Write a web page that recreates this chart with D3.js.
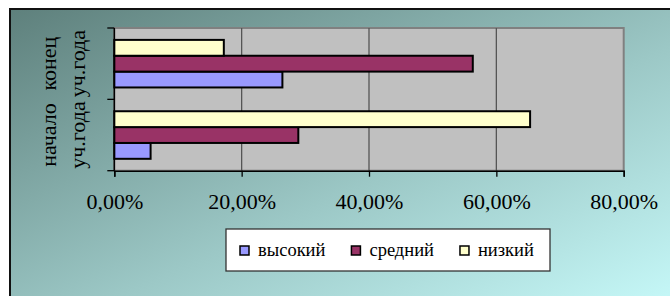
<!DOCTYPE html>
<html>
<head>
<meta charset="utf-8">
<script src="https://cdn.jsdelivr.net/npm/d3@7"></script>
<style>
  body { margin: 0; background: #fff; }
  svg text { font-family: "Liberation Serif", "Times New Roman", Tinos, "DejaVu Serif", "Noto Serif", serif; fill: #000; }
</style>
</head>
<body>
<svg id="chart"></svg>
<script>
// категории снизу вверх, как в Excel
var categories = [["начало", "уч.года"], ["конец", "уч.года"]];
var seriesNames = ["высокий", "средний", "низкий"];
var seriesColors = ["#9999ff", "#993366", "#ffffcc"];
// значения [начало, конец] для каждой серии
var vysokiy = [0.057, 0.264];
var sredniy = [0.289, 0.563];
var nizkiy = [0.653, 0.172];
var seriesValues = [vysokiy, sredniy, nizkiy];
var xTicks = [0, 0.2, 0.4, 0.6, 0.8];

var width = 670, height = 296;
var plot = {left: 114.3, right: 623.7, top: 28, bottom: 170.7};
var serif = '"Liberation Serif", "Times New Roman", Tinos, "DejaVu Serif", serif';

var svg = d3.select("#chart")
    .attr("width", width)
    .attr("height", height);

var defs = svg.append("defs");
var grad = defs.append("linearGradient")
    .attr("id", "bg")
    .attr("x1", "0%").attr("y1", "0%")
    .attr("x2", "100%").attr("y2", "100%");
grad.append("stop").attr("offset", "0%").attr("stop-color", "#5e807c");
grad.append("stop").attr("offset", "55%").attr("stop-color", "#9cc8c6");
grad.append("stop").attr("offset", "100%").attr("stop-color", "#c9fcfc");

// фон диаграммы
svg.append("rect")
    .attr("x", 10).attr("y", 9)
    .attr("width", width + 10).attr("height", height + 10)
    .attr("fill", "url(#bg)")
    .attr("stroke", "#111")
    .attr("stroke-width", 2);

var x = d3.scaleLinear()
    .domain([0, 0.8])
    .range([plot.left, plot.right]);

var y0 = d3.scaleBand()
    .domain(d3.range(categories.length))
    .range([plot.bottom, plot.top])
    .paddingInner(1 / 3)
    .paddingOuter(1 / 6);

// серии снизу вверх внутри группы
var y1 = d3.scaleBand()
    .domain(d3.range(seriesNames.length))
    .range([y0.bandwidth(), 0]);

// область построения
svg.append("rect")
    .attr("x", plot.left).attr("y", plot.top)
    .attr("width", plot.right - plot.left)
    .attr("height", plot.bottom - plot.top)
    .attr("fill", "#c0c0c0")
    .attr("stroke", "#808080")
    .attr("stroke-width", 2);

svg.append("g")
    .selectAll("line")
    .data(xTicks.slice(1, -1))
    .enter()
    .append("line")
    .attr("x1", function(d) { return x(d); })
    .attr("x2", function(d) { return x(d); })
    .attr("y1", plot.top)
    .attr("y2", plot.bottom)
    .attr("stroke", "#555")
    .attr("stroke-width", 1.3);

// столбики
var groups = svg.append("g")
    .selectAll("g")
    .data(categories)
    .enter()
    .append("g")
    .attr("transform", function(d, i) {
      return "translate(0," + y0(i) + ")";
    });

groups.selectAll("rect")
    .data(function(d, ci) {
      return seriesValues.map(function(vals, si) {
        return {si: si, v: vals[ci]};
      });
    })
    .enter()
    .append("rect")
    .attr("x", x(0))
    .attr("y", function(d) { return y1(d.si); })
    .attr("width", function(d) { return x(d.v) - x(0); })
    .attr("height", y1.bandwidth())
    .attr("fill", function(d) { return seriesColors[d.si]; })
    .attr("stroke", "#000")
    .attr("stroke-width", 2);

// ось X
var xAxis = svg.append("g")
    .attr("transform", "translate(0," + plot.bottom + ")")
    .call(d3.axisBottom(x)
      .tickValues(xTicks)
      .tickSize(6)
      .tickFormat(function(d) {
        return d3.format(".2%")(d).replace(".", ",");
      }));
xAxis.attr("font-family", serif);
xAxis.select(".domain").attr("stroke", "#000").attr("stroke-width", 1.5);
xAxis.selectAll(".tick line").attr("stroke", "#000").attr("stroke-width", 1.3);
xAxis.selectAll(".tick text")
    .attr("font-size", "22px")
    .attr("dy", null)
    .attr("y", 38);

// ось Y
var yAxisG = svg.append("g");
yAxisG.append("line")
    .attr("x1", plot.left).attr("x2", plot.left)
    .attr("y1", plot.top).attr("y2", plot.bottom)
    .attr("stroke", "#000").attr("stroke-width", 1.5);
yAxisG.selectAll(".ytick")
    .data(d3.range(categories.length + 1))
    .enter()
    .append("line")
    .attr("x1", plot.left - 7).attr("x2", plot.left)
    .attr("y1", function(i) {
      return plot.bottom - i * y0.step();
    })
    .attr("y2", function(i) {
      return plot.bottom - i * y0.step();
    })
    .attr("stroke", "#000").attr("stroke-width", 1.3);

var catLabels = svg.append("g")
    .attr("font-family", serif)
    .selectAll("text")
    .data(categories)
    .enter()
    .append("text")
    .attr("text-anchor", "middle")
    .attr("font-size", "22px")
    .attr("transform", function(d, i) {
      var cy = y0(i) + y0.bandwidth() / 2;
      return "translate(56," + cy + ") rotate(-90)";
    });
catLabels.selectAll("tspan")
    .data(function(d) { return d; })
    .enter()
    .append("tspan")
    .attr("x", 0)
    .attr("y", function(d, i) { return i * 29; })
    .text(function(d) { return d; });

// легенда
var legend = svg.append("g").attr("font-family", serif);
legend.append("rect")
    .attr("x", 226).attr("y", 229)
    .attr("width", 324).attr("height", 42)
    .attr("fill", "#fff")
    .attr("stroke", "#333")
    .attr("stroke-width", 1.3);

var lx = 240;
seriesNames.forEach(function(name, i) {
  legend.append("rect")
      .attr("x", lx).attr("y", 246)
      .attr("width", 9).attr("height", 9)
      .attr("fill", seriesColors[i])
      .attr("stroke", "#000")
      .attr("stroke-width", 1.5);
  var t = legend.append("text")
      .attr("x", lx + 18).attr("y", 256)
      .attr("font-size", "18.5px")
      .text(name);
  lx += 18 + t.node().getComputedTextLength() + 26;
});
</script>
</body>
</html>
